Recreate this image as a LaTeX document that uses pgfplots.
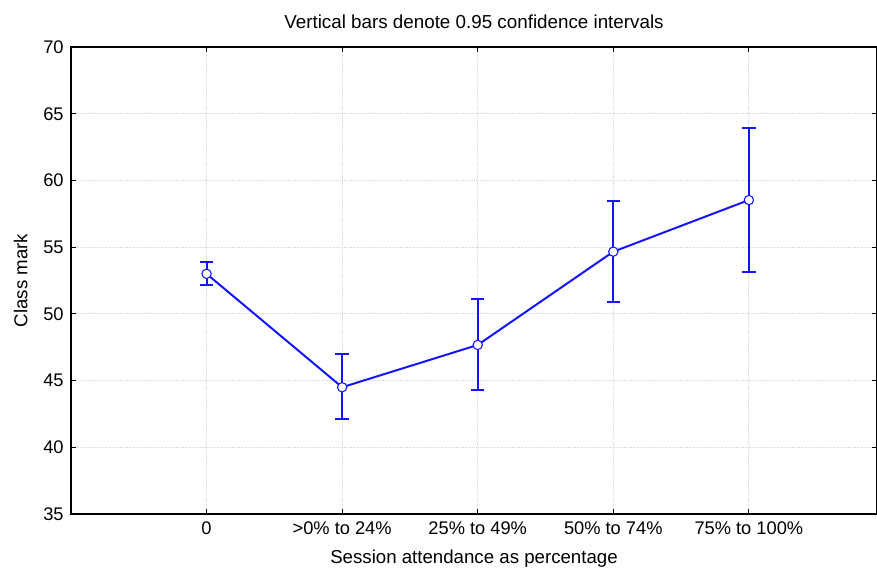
\documentclass[border=0pt]{standalone}
\usepackage{fontspec}
\setmainfont{Liberation Sans}
\usepackage{pgfplots}
\pgfplotsset{compat=1.18}
\definecolor{LineBlue}{RGB}{20,20,255}
\definecolor{GridGray}{RGB}{215,215,215}

\pgfplotstableread{
x y ep em
0 53.00 0.90 0.80
1 44.50 2.47 2.36
2 47.67 3.44 3.35
3 54.66 3.82 3.80
4 58.53 5.42 5.42
}\attend

\begin{document}
\begin{tikzpicture}
\begin{axis}[
    scale only axis,
    width=604.5pt, height=350.25pt,
    xmin=-1, xmax=4.945,
    ymin=35, ymax=70,
    ytick={35,40,...,70},
    xtick={0,1,2,3,4},
    xticklabels={0, >0\% to 24\%, 25\% to 49\%, 50\% to 74\%, 75\% to 100\%},
    tick align=inside,
    major tick length=4pt,
    tick style={black, line width=0.8pt},
    axis line style={black, line width=1pt},
    grid=major,
    grid style={GridGray, densely dotted, line width=0.6pt},
    /pgf/number format/assume math mode=true,
    ticklabel style={font=\fontsize{13.7}{16}\selectfont},
    yticklabel style={xshift=-2pt},
    xticklabel style={yshift=-2pt},
    xlabel={Session attendance as percentage},
    ylabel={Class mark},
    label style={font=\fontsize{14}{16}\selectfont},
    xlabel style={yshift=-5pt},
    ylabel style={yshift=5pt},
    title={Vertical bars denote 0.95 confidence intervals},
    title style={font=\fontsize{14.1}{16}\selectfont, yshift=4pt},
]
\addplot[LineBlue, line width=1.5pt,
    mark=*, mark size=3.5pt,
    mark options={fill=white, draw=LineBlue, line width=0.8pt},
    error bars/.cd, y dir=both, y explicit,
    error bar style={line width=1.5pt, LineBlue},
    error mark options={rotate=90, mark size=5pt, line width=1.5pt, LineBlue},
] table[x=x, y=y, y error plus=ep, y error minus=em] {\attend};
\end{axis}
\pgfresetboundingbox
\path (-53.25pt,-39.75pt) rectangle (604.5pt,385.5pt);
\end{tikzpicture}
\end{document}
